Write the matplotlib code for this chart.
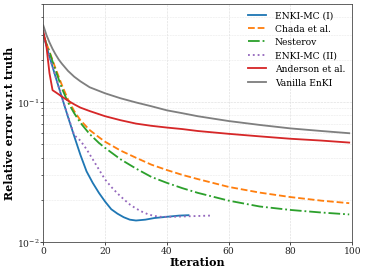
import numpy as np
import matplotlib
matplotlib.use("Agg")
import matplotlib.pyplot as plt

plt.rcParams['font.family'] = 'DejaVu Serif'
plt.rcParams['mathtext.fontset'] = 'dejavuserif'

# iterations / values
it_vanilla = [0, 1, 2, 3, 4, 5, 6, 8, 10, 12, 15, 20, 25, 30, 35, 40, 45, 50, 60, 70, 80, 90, 99]
vanilla = [0.35, 0.30, 0.265, 0.238, 0.217, 0.2, 0.187, 0.166, 0.151, 0.14, 0.127, 0.115, 0.106,
           0.099, 0.093, 0.087, 0.083, 0.079, 0.073, 0.0685, 0.0647, 0.062, 0.0598]

it_anderson = [0, 1, 2, 3, 4, 5, 6, 8, 10, 12, 15, 20, 25, 30, 35, 40, 45, 50, 60, 70, 80, 90, 99]
anderson = [0.32, 0.25, 0.16, 0.121, 0.117, 0.113, 0.109, 0.102, 0.096, 0.091, 0.086, 0.079, 0.074,
            0.070, 0.0675, 0.0656, 0.064, 0.062, 0.0592, 0.0568, 0.0546, 0.053, 0.0513]

it_chada = [0, 2, 4, 6, 8, 10, 12, 15, 18, 20, 25, 30, 35, 40, 45, 50, 60, 70, 80, 90, 99]
chada = [0.30, 0.228, 0.172, 0.132, 0.104, 0.086, 0.074, 0.063, 0.056, 0.052, 0.045, 0.040, 0.0357,
         0.0327, 0.0302, 0.0282, 0.0248, 0.0226, 0.021, 0.0198, 0.019]

it_nesterov = [0, 2, 4, 6, 8, 10, 12, 15, 18, 20, 25, 30, 35, 40, 45, 50, 60, 70, 80, 90, 99]
nesterov = [0.30, 0.225, 0.167, 0.125, 0.099, 0.083, 0.071, 0.059, 0.051, 0.047, 0.039, 0.0335,
            0.0292, 0.0265, 0.0243, 0.0225, 0.0198, 0.018, 0.017, 0.0163, 0.0158]

it_mc1 = [0, 2, 4, 6, 8, 10, 12, 14, 16, 18, 20, 22, 24, 26, 28, 30, 33, 36, 40, 44, 47]
mc1 = [0.30, 0.21, 0.15, 0.108, 0.078, 0.057, 0.042, 0.032, 0.0265, 0.0225, 0.0195, 0.0172,
       0.016, 0.0151, 0.0145, 0.0143, 0.0145, 0.0149, 0.0152, 0.0155, 0.0156]

it_mc2 = [0, 2, 4, 6, 8, 10, 12, 14, 16, 18, 20, 22, 24, 26, 28, 30, 32, 34, 36, 38, 42, 46, 50, 54]
mc2 = [0.30, 0.21, 0.15, 0.108, 0.079, 0.058, 0.053, 0.046, 0.039, 0.033, 0.028, 0.0248, 0.0223,
       0.0203, 0.0186, 0.0174, 0.0165, 0.0158, 0.0154, 0.0152, 0.0152, 0.0153, 0.0154, 0.0155]

fig = plt.figure(figsize=(5, 3.75), dpi=73)
ax = fig.add_axes([0.1186, 0.112, 0.8466, 0.872])

lw = 1.8
ax.plot(it_mc1, mc1, color='#1f77b4', lw=lw, ls='-', label='ENKI-MC (I)')
ax.plot(it_chada, chada, color='#ff7f0e', lw=lw, ls='--', label='Chada et al.')
ax.plot(it_nesterov, nesterov, color='#2ca02c', lw=lw, ls='-.', label='Nesterov')
ax.plot(it_mc2, mc2, color='#9467bd', lw=lw, ls=':', label='ENKI-MC (II)')
ax.plot(it_anderson, anderson, color='#d62728', lw=lw, ls='-', label='Anderson et al.')
ax.plot(it_vanilla, vanilla, color='#7f7f7f', lw=lw, ls='-', label='Vanilla EnKI')

ax.set_yscale('log')
ax.set_xlim(0, 100)
ax.set_ylim(0.01, 0.5)
ax.set_xlabel('Iteration', fontsize=11, fontweight='bold', labelpad=1)
ax.set_ylabel('Relative error w.r.t truth', fontsize=11, fontweight='bold', labelpad=2)
ax.tick_params(labelsize=9, colors='#222222', length=3, pad=1)
ax.tick_params(which='minor', length=2)
ax.grid(True, which='major', ls='--', lw=0.6, color='#dddddd')
ax.grid(True, which='minor', axis='y', ls='--', lw=0.5, color='#e6e6e6')
for s in ax.spines.values():
    s.set_color('#444444')

ax.legend(loc='upper right', frameon=False, fontsize=9, handlelength=2.0,
          handletextpad=0.9, labelspacing=0.48, borderaxespad=0.4)

fig.savefig('out.png', dpi=73)
